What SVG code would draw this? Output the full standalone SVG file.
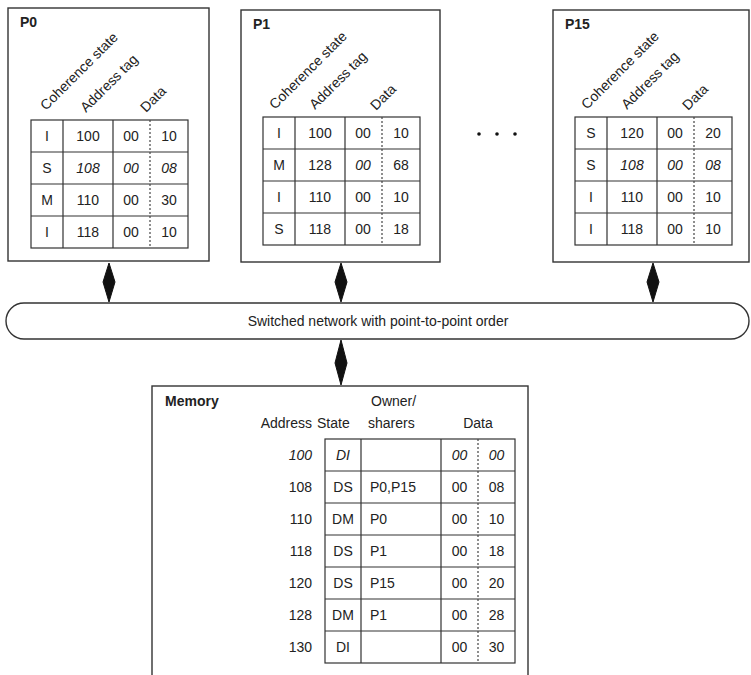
<svg xmlns="http://www.w3.org/2000/svg" width="751" height="675" viewBox="0 0 751 675">
<defs>
<style>
.box{fill:#fff;stroke:#333;stroke-width:1.4}
.grid{fill:none;stroke:#333;stroke-width:1.2}
.dot{fill:none;stroke:#444;stroke-width:1.2;stroke-dasharray:2,2}
text{font-family:"Liberation Sans",Arial,sans-serif;font-size:14px;fill:#222}
.c{text-anchor:middle}
.e{text-anchor:end}
.b{font-weight:bold}
.i{font-style:italic}
.conn{fill:#111;stroke:#111;stroke-width:1}
</style>
</defs>
<rect width="751" height="675" fill="#fff"/>

<g id="P0">
<rect class="box" x="8" y="8" width="201" height="253"/>
<text class="b" x="20" y="27">P0</text>
<text transform="translate(46,111) rotate(-45)">Coherence state</text>
<text transform="translate(86,113) rotate(-45)">Address tag</text>
<text transform="translate(146,113) rotate(-45)">Data</text>
<g transform="translate(31,120)">
<rect class="grid" x="0" y="0" width="157" height="128"/>
<path class="grid" d="M32,0V128M82,0V128M0,32H157M0,64H157M0,96H157"/>
<path class="dot" d="M119,0V128"/>
<text class="c" x="16" y="21">I</text><text class="c" x="57" y="21">100</text><text class="c" x="100" y="21">00</text><text class="c" x="138" y="21">10</text>
<text class="c" x="16" y="53">S</text><text class="c i" x="57" y="53">108</text><text class="c i" x="100" y="53">00</text><text class="c i" x="138" y="53">08</text>
<text class="c" x="16" y="85">M</text><text class="c" x="57" y="85">110</text><text class="c" x="100" y="85">00</text><text class="c" x="138" y="85">30</text>
<text class="c" x="16" y="117">I</text><text class="c" x="57" y="117">118</text><text class="c" x="100" y="117">00</text><text class="c" x="138" y="117">10</text>
</g>
</g>

<g id="P1">
<rect class="box" x="241" y="10" width="199" height="252"/>
<text class="b" x="253" y="29">P1</text>
<text transform="translate(275,110) rotate(-45)">Coherence state</text>
<text transform="translate(315,110) rotate(-45)">Address tag</text>
<text transform="translate(376,111) rotate(-45)">Data</text>
<g transform="translate(263,117)">
<rect class="grid" x="0" y="0" width="157" height="128"/>
<path class="grid" d="M32,0V128M82,0V128M0,32H157M0,64H157M0,96H157"/>
<path class="dot" d="M119,0V128"/>
<text class="c" x="16" y="21">I</text><text class="c" x="57" y="21">100</text><text class="c" x="100" y="21">00</text><text class="c" x="138" y="21">10</text>
<text class="c" x="16" y="53">M</text><text class="c" x="57" y="53">128</text><text class="c i" x="100" y="53">00</text><text class="c" x="138" y="53">68</text>
<text class="c" x="16" y="85">I</text><text class="c" x="57" y="85">110</text><text class="c" x="100" y="85">00</text><text class="c" x="138" y="85">10</text>
<text class="c" x="16" y="117">S</text><text class="c" x="57" y="117">118</text><text class="c" x="100" y="117">00</text><text class="c" x="138" y="117">18</text>
</g>
</g>

<g id="dots">
<circle cx="479" cy="134" r="1.8" fill="#111"/>
<circle cx="497" cy="134" r="1.8" fill="#111"/>
<circle cx="515" cy="134" r="1.8" fill="#111"/>
</g>

<g id="P15">
<rect class="box" x="553" y="10" width="196" height="252"/>
<text class="b" x="565" y="29">P15</text>
<text transform="translate(587,110) rotate(-45)">Coherence state</text>
<text transform="translate(627,110) rotate(-45)">Address tag</text>
<text transform="translate(688,111) rotate(-45)">Data</text>
<g transform="translate(575,117)">
<rect class="grid" x="0" y="0" width="157" height="128"/>
<path class="grid" d="M32,0V128M82,0V128M0,32H157M0,64H157M0,96H157"/>
<path class="dot" d="M119,0V128"/>
<text class="c" x="16" y="21">S</text><text class="c" x="57" y="21">120</text><text class="c" x="100" y="21">00</text><text class="c" x="138" y="21">20</text>
<text class="c" x="16" y="53">S</text><text class="c i" x="57" y="53">108</text><text class="c i" x="100" y="53">00</text><text class="c i" x="138" y="53">08</text>
<text class="c" x="16" y="85">I</text><text class="c" x="57" y="85">110</text><text class="c" x="100" y="85">00</text><text class="c" x="138" y="85">10</text>
<text class="c" x="16" y="117">I</text><text class="c" x="57" y="117">118</text><text class="c" x="100" y="117">00</text><text class="c" x="138" y="117">10</text>
</g>
</g>

<g id="network">
<rect class="box" x="6" y="303" width="743" height="36" rx="18" ry="18"/>
<text class="c" x="378" y="326">Switched network with point-to-point order</text>
</g>

<g id="Memory">
<rect class="box" x="152" y="386" width="376" height="300"/>
<text class="b" x="165" y="406">Memory</text>
<text class="e" x="312" y="428">Address</text>
<text x="317" y="428">State</text>
<text x="371" y="406">Owner/</text>
<text x="368" y="428">sharers</text>
<text class="c" x="478" y="428">Data</text>
<g transform="translate(325,439)">
<rect class="grid" x="0" y="0" width="190" height="224"/>
<path class="grid" d="M36,0V224M116,0V224M0,32H190M0,64H190M0,96H190M0,128H190M0,160H190M0,192H190"/>
<path class="dot" d="M153,0V224"/>
<text class="e i" x="-13" y="21">100</text><text class="c i" x="18" y="21">DI</text><text class="c i" x="134.5" y="21">00</text><text class="c i" x="171.5" y="21">00</text>
<text class="e" x="-13" y="53">108</text><text class="c" x="18" y="53">DS</text><text x="45" y="53">P0,P15</text><text class="c" x="134.5" y="53">00</text><text class="c" x="171.5" y="53">08</text>
<text class="e" x="-13" y="85">110</text><text class="c" x="18" y="85">DM</text><text x="45" y="85">P0</text><text class="c" x="134.5" y="85">00</text><text class="c" x="171.5" y="85">10</text>
<text class="e" x="-13" y="117">118</text><text class="c" x="18" y="117">DS</text><text x="45" y="117">P1</text><text class="c" x="134.5" y="117">00</text><text class="c" x="171.5" y="117">18</text>
<text class="e" x="-13" y="149">120</text><text class="c" x="18" y="149">DS</text><text x="45" y="149">P15</text><text class="c" x="134.5" y="149">00</text><text class="c" x="171.5" y="149">20</text>
<text class="e" x="-13" y="181">128</text><text class="c" x="18" y="181">DM</text><text x="45" y="181">P1</text><text class="c" x="134.5" y="181">00</text><text class="c" x="171.5" y="181">28</text>
<text class="e" x="-13" y="213">130</text><text class="c" x="18" y="213">DI</text><text class="c" x="134.5" y="213">00</text><text class="c" x="171.5" y="213">30</text>
</g>
</g>

<g id="connectors">
<path class="conn" d="M109,263 L115,282 L109,302 L103,282 Z"/>
<path class="conn" d="M341,263 L347,282 L341,302 L335,282 Z"/>
<path class="conn" d="M653,263 L659,282 L653,302 L647,282 Z"/>
<path class="conn" d="M341,340 L347,363 L341,385 L335,363 Z"/>
</g>
</svg>
